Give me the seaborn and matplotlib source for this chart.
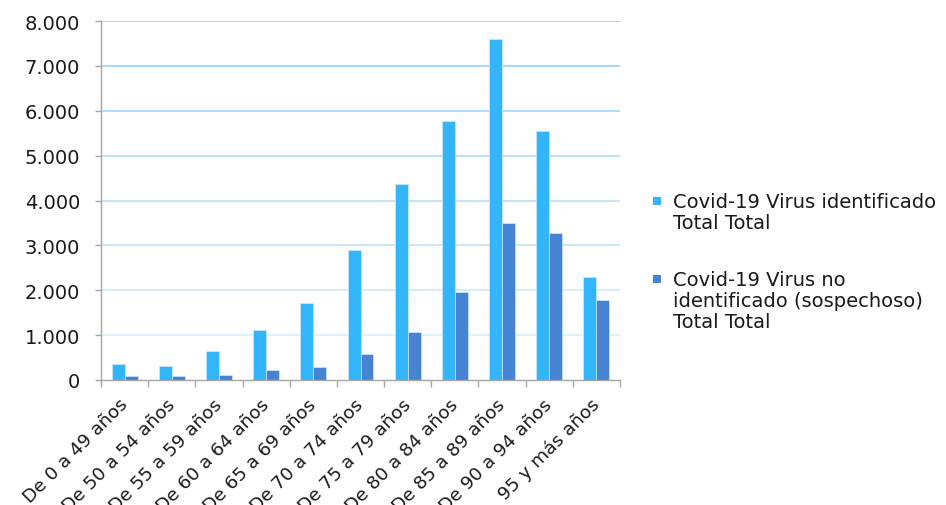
import numpy as np
import pandas as pd
import matplotlib
matplotlib.use("Agg")
import matplotlib.pyplot as plt
from matplotlib.patches import Rectangle
from matplotlib.ticker import FuncFormatter, FixedLocator
from matplotlib.transforms import ScaledTranslation
import seaborn as sns

categories = ["De 0 a 49 años", "De 50 a 54 años", "De 55 a 59 años", "De 60 a 64 años",
              "De 65 a 69 años", "De 70 a 74 años", "De 75 a 79 años", "De 80 a 84 años",
              "De 85 a 89 años", "De 90 a 94 años", "95 y más años"]
identificado = [364, 319, 646, 1113, 1714, 2902, 4358, 5768, 7601, 5553, 2287]
sospechoso = [89, 89, 111, 215, 282, 579, 1076, 1967, 3503, 3274, 1782]
series_names = ["Covid-19 Virus identificado\nTotal Total",
                "Covid-19 Virus no\nidentificado (sospechoso)\nTotal Total"]
colors = ["#33B5FC", "#4683D3"]
yticks = [0, 1000, 2000, 3000, 4000, 5000, 6000, 7000, 8000]

df = pd.DataFrame({
    "grupo": categories * 2,
    "valor": identificado + sospechoso,
    "serie": [series_names[0]] * len(categories) + [series_names[1]] * len(categories),
})

FS = 14
FS_X = 13.3

sns.set_theme(style="white")
plt.rcParams["font.family"] = ["DejaVu Sans"]

fig = plt.figure(figsize=(9.46, 5.06), dpi=100)
ax = fig.add_axes([101 / 946, 1 - 381 / 506, (620 - 101) / 946, (381 - 22) / 506])

# gridlines fading from top to bottom
top_c = np.array(matplotlib.colors.to_rgb("#8ED3F9"))
bot_c = np.array(matplotlib.colors.to_rgb("#E6F5FE"))
for v in yticks[1:]:
    t = v / yticks[-1]
    c = bot_c + (top_c - bot_c) * t
    ax.axhline(v, color=c, lw=1.3, zorder=0)

sns.barplot(data=df, x="grupo", y="valor", hue="serie", palette=colors,
            width=0.55, gap=0, dodge=True, ax=ax, legend=False,
            edgecolor="#CFEAFB", linewidth=0.5, saturation=1, zorder=2)

ax.set_ylim(0, 8000)
ax.set_xlim(-0.5, len(categories) - 0.5)
ax.set_xlabel("")
ax.set_ylabel("")
ax.set_yticks(yticks)
ax.yaxis.set_major_formatter(FuncFormatter(lambda v, p: f"{int(v):,}".replace(",", ".")))

for s in ["top", "right"]:
    ax.spines[s].set_visible(False)
for s in ["left", "bottom"]:
    ax.spines[s].set_color("#A6A6A6")
    ax.spines[s].set_linewidth(1.0)

ax.tick_params(axis="y", which="major", left=True, length=4, width=1, color="#A6A6A6",
               pad=11, labelsize=FS, labelcolor="#1A1A1A")
ax.set_xticks(range(len(categories)))
ax.set_xticklabels(categories, rotation=45, ha="right", rotation_mode="anchor")
ax.tick_params(axis="x", which="major", bottom=False, length=0, pad=10,
               labelsize=FS_X, labelcolor="#1A1A1A")
ax.xaxis.set_minor_locator(FixedLocator(np.arange(-0.5, len(categories), 1.0)))
ax.tick_params(axis="x", which="minor", bottom=True, length=5, width=1, color="#A6A6A6")

# nudge the slanted category labels so each ends just under its group
shift = ScaledTranslation(-6 / 100, -1 / 100, fig.dpi_scale_trans)
for lbl in ax.get_xticklabels():
    lbl.set_transform(lbl.get_transform() + shift)

# legend with markers aligned to the first text line
legend_entries = [(series_names[0], colors[0], 202), (series_names[1], colors[1], 280)]
for label, col, ypix in legend_entries:
    fig.patches.append(Rectangle((653 / 946, 1 - (ypix + 4) / 506), 8 / 946, 8 / 506,
                                 transform=fig.transFigure, facecolor=col,
                                 edgecolor="none", figure=fig))
    fig.text(673 / 946, 1 - (ypix - 9) / 506, label, ha="left", va="top",
             fontsize=FS, color="#1A1A1A", linespacing=1.12)

fig.savefig("out.png", dpi=100, facecolor="white")
